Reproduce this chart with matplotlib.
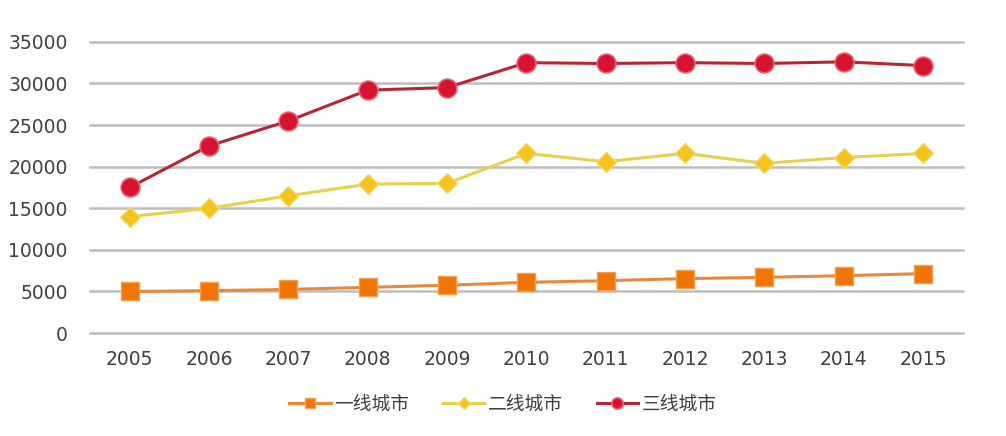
import matplotlib
matplotlib.use("Agg")
import matplotlib.pyplot as plt

years = ["2005", "2006", "2007", "2008", "2009", "2010", "2011", "2012", "2013", "2014", "2015"]
tier1 = [5000, 5100, 5250, 5500, 5750, 6100, 6300, 6550, 6700, 6900, 7150]
tier2 = [14000, 15000, 16500, 17900, 18000, 21600, 20600, 21600, 20400, 21100, 21600]
tier3 = [17500, 22500, 25500, 29200, 29500, 32500, 32400, 32500, 32400, 32600, 32150]
labels = ["一线城市", "二线城市", "三线城市"]
yticks = [0, 5000, 10000, 15000, 20000, 25000, 30000, 35000]

plt.rcParams["font.family"] = ["Noto Sans CJK SC", "DejaVu Sans"]

fig = plt.figure(figsize=(10.06, 4.36), dpi=100)
ax = fig.add_axes([0.0895, 0.236, 0.8675, 0.668])
x = list(range(len(years)))

ax.plot(x, tier1, color="#E8893A", lw=2.2, marker="s", ms=13,
        mfc="#F07406", mec="#F0A050", mew=1, label=labels[0], zorder=3)
ax.plot(x, tier2, color="#E6D24A", lw=2.2, marker="D", ms=10,
        mfc="#F5C41C", mec="#F5D76A", mew=1, label=labels[1], zorder=3)
ax.plot(x, tier3, color="#B82436", lw=2.2, marker="o", ms=13.5,
        mfc="#D8132F", mec="#E86070", mew=1.2, label=labels[2], zorder=3)

ax.set_xlim(-0.5, len(years) - 0.5)
ax.set_ylim(0, 35000)
ax.set_xticks(x)
ax.set_xticklabels(years, family="DejaVu Sans")
ax.set_yticks(yticks)
ax.set_yticklabels([str(v) for v in yticks], family="DejaVu Sans")
ax.tick_params(axis="both", length=0, labelsize=13.5, colors="#404040")
ax.tick_params(axis="y", pad=16)
ax.tick_params(axis="x", pad=12)
ax.grid(axis="y", color="#BEBEBE", lw=1.8)
for gl in ax.get_ygridlines():
    gl.set_clip_on(False)
ax.set_axisbelow(True)
for s in ax.spines.values():
    s.set_visible(False)

fig.legend(loc="center", bbox_to_anchor=(0.5, 0.073), ncol=3, frameon=False,
           fontsize=13.5, markerscale=0.6, handlelength=2.2, handletextpad=0.2,
           columnspacing=1.8, labelcolor="#404040")

fig.savefig("out.png", dpi=100, facecolor="white")
